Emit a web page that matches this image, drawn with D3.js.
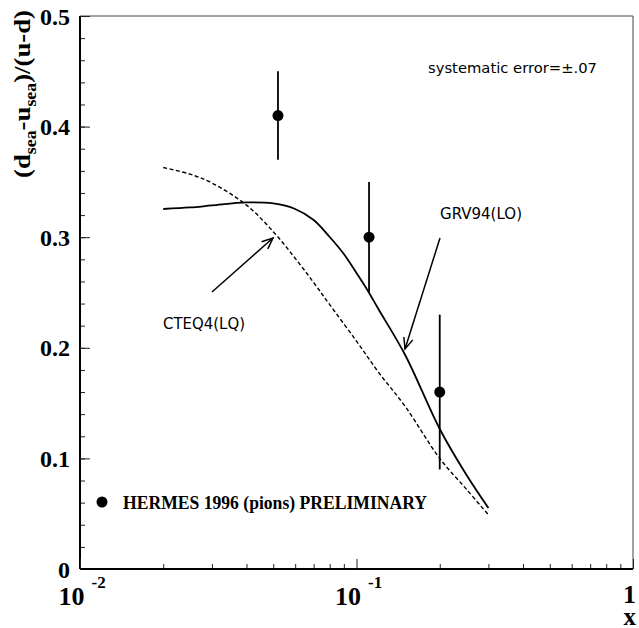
<!DOCTYPE html>
<html>
<head>
<meta charset="utf-8">
<script src="https://cdn.jsdelivr.net/npm/d3@7"></script>
<style>
html,body{margin:0;padding:0;background:#fff;}
svg{display:block;}
</style>
</head>
<body>
<svg id="chart" width="639" height="628"></svg>
<script>
// ---- data ----
const grvX = [0.02,0.025,0.03,0.04,0.05,0.06,0.07,0.08,0.09,0.1,0.11,0.12,0.15,0.2,0.25,0.3];
const grvY = [0.3255,0.3269,0.3287,0.3314,0.3305,0.3255,0.3155,0.3002,0.2848,0.2676,0.2514,0.2351,0.1935,0.1266,0.0850,0.0552];
const cteqX = [0.02,0.025,0.03,0.04,0.05,0.06,0.07,0.08,0.1,0.12,0.15,0.2,0.25,0.3];
const cteqY = [0.363,0.357,0.349,0.329,0.305,0.281,0.259,0.239,0.206,0.178,0.147,0.100,0.072,0.049];
const ptX = [0.052,0.111,0.2];
const ptY = [0.41,0.30,0.16];
const ptErr = [0.04,0.05,0.07];
const yTickVals = [0,0.1,0.2,0.3,0.4,0.5];
const yTickLabels = ["0","0.1","0.2","0.3","0.4","0.5"];
const xTickVals = [0.01,0.1,1];
const xTickBase = ["10","10","1"];
const xTickExp = ["-2","-1",""];

const svg = d3.select("#chart");
const L = 80, R = 633, T = 16, B = 569;
const x = d3.scaleLog().domain([0.01,1]).range([L,R]);
const y = d3.scaleLinear().domain([0,0.5]).range([B,T]);
const serif = "'Liberation Serif','Times New Roman',serif";
const sans = "'DejaVu Sans','Liberation Sans',sans-serif";

// frame (top/right)
svg.append("path").attr("d",`M${L},${T}H${R}V${B}`).attr("fill","none").attr("stroke","#444").attr("stroke-width",1);

// y axis minor
const yMinor = d3.axisLeft(y).tickValues(d3.range(0,0.5001,0.02)).tickSize(-5).tickFormat("");
svg.append("g").attr("transform",`translate(${L},0)`).call(yMinor)
  .call(g=>g.select(".domain").remove())
  .selectAll("line").attr("stroke","#222").attr("stroke-width",1);
// y axis major
const yMajor = d3.axisLeft(y).tickValues(yTickVals).tickSize(-10).tickPadding(10)
  .tickFormat((d,i)=>yTickLabels[i]);
const gy = svg.append("g").attr("transform",`translate(${L},0)`).call(yMajor);
gy.select(".domain").attr("stroke","#000").attr("stroke-width",2).attr("d",`M0,${B}V${T}`);
gy.selectAll("line").attr("stroke","#222").attr("stroke-width",1);
gy.selectAll("text").attr("font-family",serif).attr("font-weight","bold").attr("font-size",24).attr("fill","#000").attr("dy","0.34em");

// x axis minor
const xMinorVals = [];
[0.01,0.1].forEach(b=>{for(let k=2;k<=9;k++) xMinorVals.push(b*k);});
const xMinor = d3.axisBottom(x).tickValues(xMinorVals).tickSize(-5).tickFormat("");
svg.append("g").attr("transform",`translate(0,${B})`).call(xMinor)
  .call(g=>g.select(".domain").remove())
  .selectAll("line").attr("stroke","#222").attr("stroke-width",1);
const xMajor = d3.axisBottom(x).tickValues(xTickVals).tickSize(-10).tickFormat("");
const gx = svg.append("g").attr("transform",`translate(0,${B})`).call(xMajor);
gx.select(".domain").attr("stroke","#000").attr("stroke-width",2).attr("d",`M${L},0H${R}`);
gx.selectAll("line").attr("stroke","#222").attr("stroke-width",1);
gx.selectAll(".tick").each(function(d,i){
  const t = d3.select(this);
  if (xTickExp[i]) {
    t.append("text").attr("x",4).attr("y",36).attr("text-anchor","end")
      .attr("font-family",serif).attr("font-weight","bold").attr("font-size",26).attr("fill","#000").text(xTickBase[i]);
    t.append("text").attr("x",11).attr("y",19).attr("text-anchor","start")
      .attr("font-family",serif).attr("font-weight","bold").attr("font-size",17).attr("fill","#000").text(xTickExp[i]);
  } else {
    t.append("text").attr("x",-4).attr("y",34).attr("text-anchor","middle")
      .attr("font-family",serif).attr("font-weight","bold").attr("font-size",26).attr("fill","#000").text(xTickBase[i]);
  }
});
// x title
svg.append("text").attr("x",636).attr("y",625).attr("text-anchor","end")
  .attr("font-family",serif).attr("font-weight","bold").attr("font-size",25).text("x");

// y title
const yt = svg.append("text").attr("transform","translate(30,10) rotate(-90)").attr("text-anchor","end")
  .attr("font-family",serif).attr("font-weight","bold").attr("font-size",24).attr("fill","#000")
  .attr("textLength",168).attr("lengthAdjust","spacingAndGlyphs");
yt.append("tspan").text("(d");
yt.append("tspan").attr("font-size",16).attr("dy",6).text("sea");
yt.append("tspan").attr("dy",-6).text("-u");
yt.append("tspan").attr("font-size",16).attr("dy",6).text("sea");
yt.append("tspan").attr("dy",-6).text(")/(u-d)");

// curves
const line = d3.line().x(d=>x(d[0])).y(d=>y(d[1])).curve(d3.curveCatmullRom.alpha(0.5));
svg.append("path").attr("d",line(grvX.map((v,i)=>[v,grvY[i]])))
  .attr("fill","none").attr("stroke","#000").attr("stroke-width",1.8);
svg.append("path").attr("d",line(cteqX.map((v,i)=>[v,cteqY[i]])))
  .attr("fill","none").attr("stroke","#000").attr("stroke-width",1.4).attr("stroke-dasharray","4,2.5");

// data points
const pts = ptX.map((v,i)=>({x:v,y:ptY[i],e:ptErr[i]}));
svg.append("g").selectAll("line").data(pts).join("line")
  .attr("x1",d=>x(d.x)).attr("x2",d=>x(d.x)).attr("y1",d=>y(d.y-d.e)).attr("y2",d=>y(d.y+d.e))
  .attr("stroke","#000").attr("stroke-width",1.8);
svg.append("g").selectAll("circle").data(pts).join("circle")
  .attr("cx",d=>x(d.x)).attr("cy",d=>y(d.y)).attr("r",5.5).attr("fill","#000");

// legend
svg.append("circle").attr("cx",102).attr("cy",502).attr("r",5.5).attr("fill","#000");
svg.append("text").attr("x",123).attr("y",509).attr("font-family",serif).attr("font-weight","bold")
  .attr("font-size",18).attr("textLength",304).attr("lengthAdjust","spacingAndGlyphs")
  .text("HERMES 1996 (pions) PRELIMINARY");

// annotations
svg.append("text").attr("x",428).attr("y",73).attr("font-family",sans).attr("font-size",14)
  .attr("textLength",169).attr("lengthAdjust","spacingAndGlyphs").text("systematic error=\u00b1.07");
svg.append("text").attr("x",163).attr("y",329).attr("font-family",sans).attr("font-size",15)
  .attr("textLength",82).attr("lengthAdjust","spacingAndGlyphs").text("CTEQ4(LQ)");
svg.append("text").attr("x",440).attr("y",219).attr("font-family",sans).attr("font-size",15)
  .attr("textLength",82).attr("lengthAdjust","spacingAndGlyphs").text("GRV94(LO)");

// arrows
function arrow(x1,y1,x2,y2){
  svg.append("line").attr("x1",x1).attr("y1",y1).attr("x2",x2).attr("y2",y2).attr("stroke","#000").attr("stroke-width",1.5);
  const a = Math.atan2(y2-y1,x2-x1), len=12, sp=0.4;
  const p1=[x2-len*Math.cos(a-sp), y2-len*Math.sin(a-sp)];
  const p2=[x2-len*Math.cos(a+sp), y2-len*Math.sin(a+sp)];
  svg.append("path").attr("d",`M${p1[0]},${p1[1]}L${x2},${y2}L${p2[0]},${p2[1]}`)
    .attr("fill","none").attr("stroke","#000").attr("stroke-width",1.5);
}
arrow(212,292,273,238);
arrow(440,238,405,349);
</script>
</body>
</html>
